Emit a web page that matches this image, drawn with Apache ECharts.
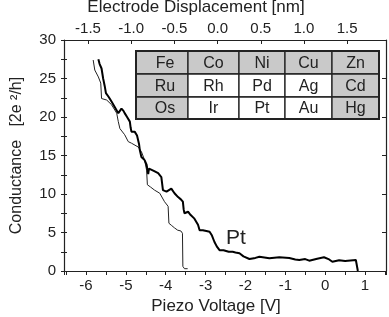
<!DOCTYPE html>
<html lang="en">
<head>
<meta charset="UTF-8">
<title>Pt conductance</title>
<script src="https://cdn.jsdelivr.net/npm/echarts@6/dist/echarts.min.js"></script>
<style>
html,body{margin:0;padding:0;background:#fff;}
#box{width:389px;height:317px;}
</style>
</head>
<body>
<div id="box"></div>
<script>
// thick trace (piezo voltage V, conductance 2e^2/h)
let thickV=[-5.69,-5.66,-5.61,-5.57,-5.53,-5.50,-5.43,-5.36,-5.28,-5.19,-5.15,-5.11,-5.06,-5.03,-4.97,-4.90,-4.88,-4.86,-4.82,-4.78,-4.72,-4.69,-4.67,-4.65,-4.61,-4.53,-4.48,-4.45,-4.44,-4.42,-4.40,-4.30,-4.19,-4.11,-4.07,-4.03,-3.98,-3.86,-3.78,-3.69,-3.62,-3.57,-3.55,-3.53,-3.44,-3.38,-3.28,-3.19,-3.15,-3.07,-2.98,-2.90,-2.84,-2.78,-2.72,-2.65,-2.55,-2.42,-2.32,-2.25,-2.15,-2.05,-1.90,-1.75,-1.65,-1.40,-1.15,-0.90,-0.75,-0.65,-0.50,-0.40,-0.20,-0.03,0.10,0.18,0.35,0.50,0.77,0.82,0.82];
let thickG=[27.5,26.9,26.3,25.0,24.0,23.1,22.6,22.0,21.3,20.5,20.8,21.1,20.8,20.5,20.0,19.4,18.6,18.1,18.3,18.1,17.6,17.4,16.5,15.7,14.8,14.4,13.8,12.9,12.6,13.3,13.3,13.0,12.7,12.2,10.5,10.4,10.3,10.7,10.1,9.6,9.3,9.0,8.0,7.5,7.7,7.3,6.8,6.0,5.3,5.3,5.2,5.1,4.6,3.8,3.2,2.7,2.7,2.5,2.5,2.4,2.3,1.9,1.56,1.7,1.86,1.65,1.78,1.7,1.5,1.43,1.55,1.34,1.6,1.78,1.5,1.2,1.4,1.3,1.43,1.45,0];
// thin trace
let thinV=[-5.82,-5.78,-5.69,-5.63,-5.61,-5.48,-5.36,-5.23,-5.19,-5.15,-5.03,-4.94,-4.86,-4.69,-4.61,-4.53,-4.48,-4.46,-4.38,-4.28,-4.15,-4.03,-3.94,-3.92,-3.85,-3.78,-3.70,-3.62,-3.60,-3.58,-3.57,-3.53,-3.45];
let thinG=[27.4,26.1,25.2,24.4,22.4,22.2,21.6,20.5,19.4,18.5,17.7,16.8,16.6,16.1,15.5,14.4,13.1,11.2,10.9,10.5,10.1,9.0,8.4,6.2,5.9,5.6,5.3,5.2,5.3,4.9,0.6,0.3,0.3];
// periodic table inset
let elements=[['Fe','Co','Ni','Cu','Zn'],['Ru','Rh','Pd','Ag','Cd'],['Os','Ir','Pt','Au','Hg']];
let whiteCells=['Rh','Pd','Ag','Ir','Pt','Au'];

let font='"Liberation Sans", Arial, sans-serif';
let ink='#222';

function pairs(xs,ys){return xs.map((x,i)=>[x,ys[i]]);}

// table drawing
let colX=[136,188,239,285,332,379];
let rowY=[51,74,97,119];
let cells=[];
elements.forEach((row,r)=>{
	row.forEach((name,c)=>{
		let x0=colX[c],x1=colX[c+1],y0=rowY[r],y1=rowY[r+1];
		cells.push({
			type:'rect',
			shape:{x:x0,y:y0,width:x1-x0,height:y1-y0},
			style:{fill:whiteCells.indexOf(name)>=0?'#fff':'#c9c9c9',stroke:ink,lineWidth:1.3}
		});
		cells.push({
			type:'text',
			style:{text:name,x:(x0+x1)/2+(c==0?3:0),y:(y0+y1)/2+1,fill:ink,font:'16px '+font,
				textAlign:'center',textVerticalAlign:'middle',align:'center',verticalAlign:'middle'}
		});
	});
});
cells.push({
	type:'rect',
	shape:{x:colX[0],y:rowY[0],width:colX[5]-colX[0],height:rowY[3]-rowY[0]},
	style:{fill:'none',stroke:ink,lineWidth:2}
});
cells.push({
	type:'text',
	style:{text:'Pt',x:226,y:238,fill:ink,font:'21px '+font,textAlign:'left',textVerticalAlign:'middle',align:'left',verticalAlign:'middle'}
});

let axisText={color:ink,fontFamily:font,fontSize:15};
let lineSt={onZero:false,lineStyle:{color:ink,width:1.2}};

let options={
	animation:false,
	grid:{left:64,right:3,top:40,bottom:46,containLabel:false,outerBoundsMode:'none'},
	xAxis:[
		{
			type:'value',position:'bottom',min:-6.552,max:1.526,splitNumber:16,
			name:'Piezo Voltage [V]',nameLocation:'middle',nameGap:21,
			nameTextStyle:{color:ink,fontFamily:font,fontSize:17,padding:[0,18,0,0]},
			axisLine:lineSt,axisTick:{show:true,inside:false,length:4,lineStyle:{color:ink}},
			axisLabel:Object.assign({margin:7,formatter:v=>Number.isInteger(Math.round(v*1000)/1000)?String(Math.round(v)):''},axisText),
			splitLine:{show:false}
		},
		{
			type:'value',position:'top',min:-1.778,max:1.950,splitNumber:7,
			name:'Electrode Displacement [nm]',nameLocation:'middle',nameGap:16,
			nameTextStyle:{color:ink,fontFamily:font,fontSize:17,padding:[0,58,0,0]},
			axisLine:lineSt,axisTick:{show:true,inside:true,length:4,lineStyle:{color:ink}},
			axisLabel:Object.assign({margin:4,formatter:v=>{
				let k=Math.round(v*2);
				return Math.abs(v*2-k)<1e-6?(k/2).toFixed(1):'';
			}},axisText),
			splitLine:{show:false}
		}
	],
	yAxis:[
		{
			type:'value',position:'left',min:0,max:30,interval:5,
			name:'Conductance   [2e ²/h]',nameLocation:'middle',nameGap:39,
			nameTextStyle:{color:ink,fontFamily:font,fontSize:16},
			axisLine:lineSt,axisTick:{show:true,inside:false,length:3,lineStyle:{color:ink}},
			minorTick:{show:true,splitNumber:2,length:3,lineStyle:{color:ink}},
			axisLabel:Object.assign({margin:8},axisText),
			splitLine:{show:false},minorSplitLine:{show:false}
		},
		{
			type:'value',position:'right',min:0,max:30,interval:5,
			axisLine:lineSt,axisTick:{show:true,inside:true,length:4,lineStyle:{color:ink}},
			axisLabel:{show:false},splitLine:{show:false}
		},
		{
			type:'value',position:'left',min:0,max:30,interval:5,
			axisLine:{show:false,onZero:false},axisTick:{show:true,inside:true,length:3,lineStyle:{color:ink}},
			minorTick:{show:true,splitNumber:2,length:3,lineStyle:{color:ink}},
			axisLabel:{show:false},splitLine:{show:false},minorSplitLine:{show:false}
		}
	],
	series:[
		{
			name:'thin',type:'line',xAxisIndex:0,yAxisIndex:0,showSymbol:false,
			data:pairs(thinV,thinG),lineStyle:{color:ink,width:1}
		},
		{
			name:'thick',type:'line',xAxisIndex:0,yAxisIndex:0,showSymbol:false,
			data:pairs(thickV,thickG),lineStyle:{color:'#000',width:2}
		}
	],
	graphic:cells
};

let charts=echarts.init(document.getElementById('box'));
charts.setOption(options);
</script>
</body>
</html>
